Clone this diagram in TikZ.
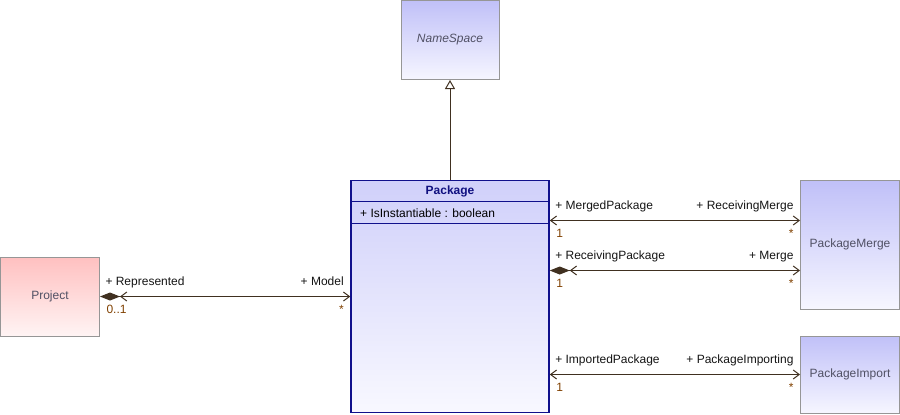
\documentclass[tikz,border=0pt]{standalone}
\usepackage{fontspec}
\setmainfont{Liberation Sans}
\usetikzlibrary{arrows.meta}
\definecolor{linecol}{RGB}{64,48,32}
\definecolor{multcol}{RGB}{128,64,0}
\definecolor{rolecol}{RGB}{20,20,20}
\definecolor{greyborder}{RGB}{150,150,150}
\definecolor{greytext}{RGB}{80,80,100}
\definecolor{navyborder}{RGB}{16,16,140}
\definecolor{navytext}{RGB}{16,16,128}
\definecolor{bluetop}{RGB}{192,192,248}
\definecolor{bluebot}{RGB}{246,246,255}
\definecolor{pkgtop}{RGB}{208,208,250}
\definecolor{pkgbot}{RGB}{248,248,255}
\definecolor{pinktop}{RGB}{255,192,192}
\definecolor{pinkbot}{RGB}{255,244,244}
\begin{document}
\begin{tikzpicture}[x=10pt,y=10pt,
  every node/.style={font=\fontsize{12}{14}\selectfont, inner sep=0pt},
  navi/.tip={Straight Barb[length=6pt,width=9pt]},
  compo/.tip={Diamond[length=20pt,width=8pt]},
  classbox/.style={draw=greyborder, line width=1pt, top color=bluetop, bottom color=bluebot, text=greytext},
  projbox/.style={classbox, top color=pinktop, bottom color=pinkbot},
  pkgbox/.style={draw=navyborder, line width=1.5pt, top color=pkgtop, bottom color=pkgbot},
  assoc/.style={draw=linecol, line width=1pt, navi-navi},
  compassoc/.style={draw=linecol, line width=1pt, {compo[] navi[]}-navi},
  gen/.style={draw=linecol, line width=1pt, -{Triangle[open,length=9pt,width=10pt,fill=white]}},
  lrole/.style={anchor=base west, shift={(0.5,1.1)}, text=rolecol},
  rrole/.style={anchor=base east, shift={(-0.6,1.1)}, text=rolecol},
  lmult/.style={anchor=base west, shift={(0.6,-1.65)}, text=multcol},
  rmult/.style={anchor=base east, shift={(-0.6,-1.65)}, text=multcol}]
\useasboundingbox (0,0) rectangle (90,-41.5);
\node [classbox, minimum width=98pt, minimum height=79pt, font=\fontsize{12}{14}\selectfont\itshape] (namespace) at (45.0,-4.0) {NameSpace};
\node [pkgbox, minimum width=198pt, minimum height=232pt] (pkg) at (45.0,-29.65) {};
\node [font=\fontsize{12}{14}\selectfont\bfseries, text=navytext] (pkgname) at (45.0,-19.1) {Package};
\draw [navyborder, line width=1pt] (pkg.west |- 0,-20.15) -- (pkg.east |- 0,-20.15);
\draw [navyborder, line width=1pt] (pkg.west |- 0,-22.35) -- (pkg.east |- 0,-22.35);
\node [anchor=base west] (attr) at (36.0,-21.7) {+ IsInstantiable : boolean};
\node [projbox, minimum width=99pt, minimum height=79pt] (project) at (5.0,-29.65) {Project};
\node [classbox, minimum width=99pt, minimum height=128.5pt] (merge) at (85.0,-24.475) {PackageMerge};
\node [classbox, minimum width=99pt, minimum height=77pt] (import) at (85.0,-37.45) {PackageImport};
\draw [gen] (pkg) -- (namespace);
\draw [compassoc] (project) -- (pkg)
  node [pos=0, lrole] {+ Represented}
  node [pos=0, lmult] {0..1}
  node [pos=1, rrole] {+ Model}
  node [pos=1, rmult] {*};
\draw [assoc] (pkg.east |- 0,-22.05) -- (merge.west |- 0,-22.05)
  node [pos=0, lrole] {+ MergedPackage}
  node [pos=0, lmult] {1}
  node [pos=1, rrole] {+ ReceivingMerge}
  node [pos=1, rmult] {*};
\draw [compassoc] (pkg.east |- 0,-27.05) -- (merge.west |- 0,-27.05)
  node [pos=0, lrole] {+ ReceivingPackage}
  node [pos=0, lmult] {1}
  node [pos=1, rrole] {+ Merge}
  node [pos=1, rmult] {*};
\draw [assoc] (import.west -| pkg.east) -- (import.west)
  node [pos=0, lrole] {+ ImportedPackage}
  node [pos=0, lmult] {1}
  node [pos=1, rrole] {+ PackageImporting}
  node [pos=1, rmult] {*};
\end{tikzpicture}
\end{document}
